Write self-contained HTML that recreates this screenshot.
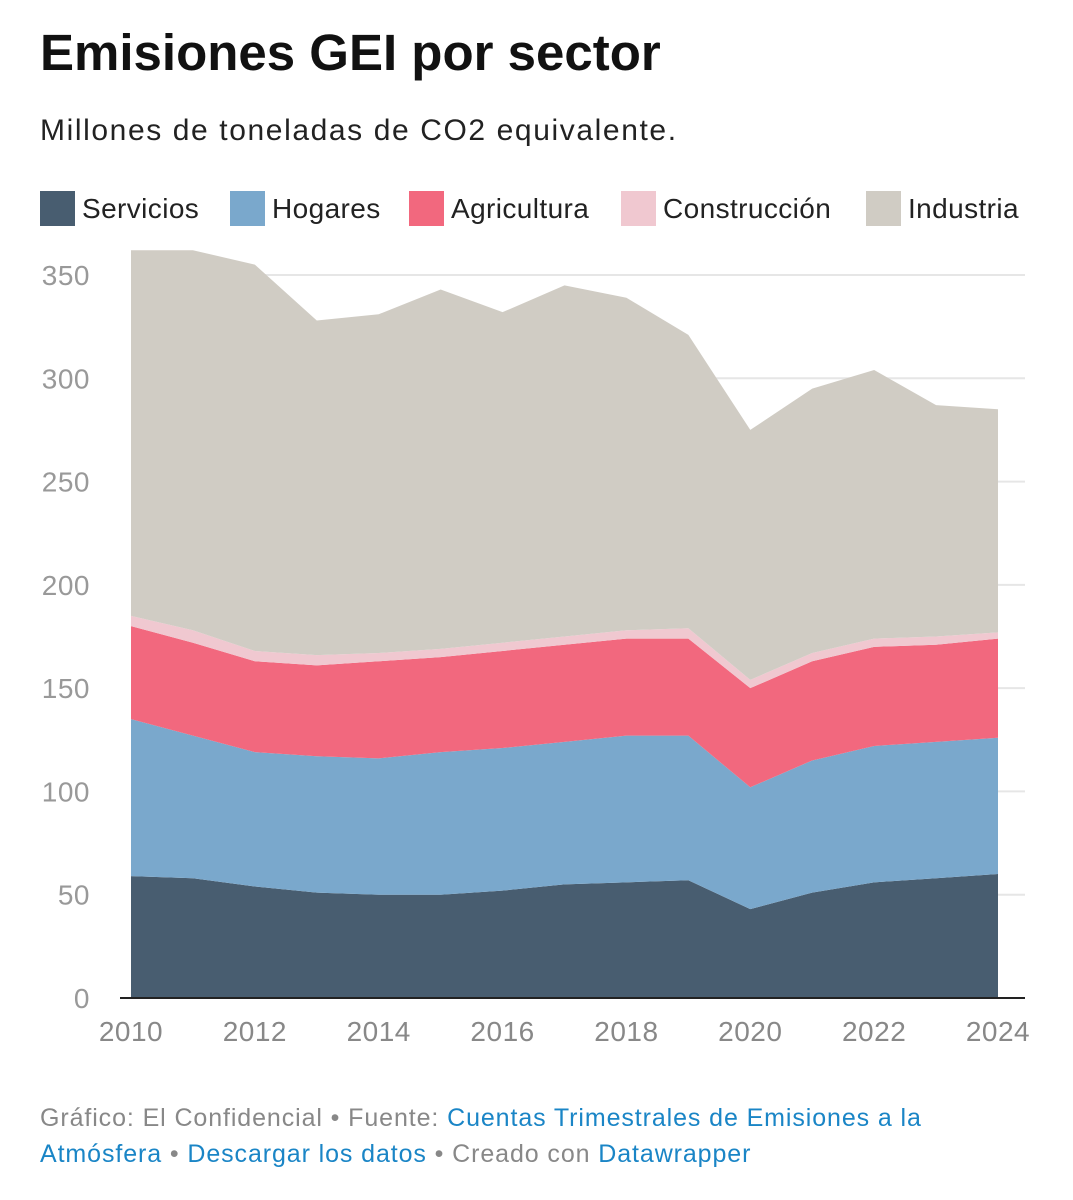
<!DOCTYPE html>
<html><head><meta charset="utf-8"><style>
body{margin:0;background:#fff;width:1073px;height:1200px;overflow:hidden;font-family:"Liberation Sans",sans-serif}
.t{position:absolute;left:40px;top:23px;font-size:51px;font-weight:bold;color:#111}
.s{position:absolute;left:40px;top:114px;font-size:30px;letter-spacing:1.6px;color:#222}
.f{position:absolute;left:40px;top:1100px;font-size:25px;letter-spacing:0.9px;line-height:36px;color:#888}
.f a{color:#1a85c6;text-decoration:none}
</style></head><body>
<div class="t">Emisiones GEI por sector</div>
<div class="s">Millones de toneladas de CO2 equivalente.</div>
<svg id="c" width="1073" height="1200" style="position:absolute;left:0;top:0"></svg>
<div class="f">Gráfico: El Confidencial • Fuente: <a>Cuentas Trimestrales de Emisiones a la<br>Atmósfera</a> • <a>Descargar los datos</a> • Creado con <a>Datawrapper</a></div>
<script>
const years=[2010,2011,2012,2013,2014,2015,2016,2017,2018,2019,2020,2021,2022,2023,2024];
const seriesNames=["Servicios","Hogares","Agricultura","Construcción","Industria"];
const servicios=[59,58,54,51,50,50,52,55,56,57,43,51,56,58,60];
const hogares=[76,69,65,66,66,69,69,69,71,70,59,64,66,66,66];
const agricultura=[45,45,44,44,47,46,47,47,47,47,48,48,48,47,48];
const construccion=[5,6,5,5,4,4,4,4,4,5,4,4,4,4,3];
const industria=[177,184,187,162,164,174,160,170,161,142,121,128,130,112,108];
const yTicks=[0,50,100,150,200,250,300,350];
const xTicks=[2010,2012,2014,2016,2018,2020,2022,2024];
const colors=["#485d70","#7aa8cc","#f2687e","#f0c8d0","#d0ccc4"];
const svg=document.getElementById('c');const NS="http://www.w3.org/2000/svg";
const x=v=>131+(v-2010)*(998-131)/14;
const y=v=>998-v*(998-275)/350;
function mk(t,a){const e=document.createElementNS(NS,t);for(const k in a)e.setAttribute(k,a[k]);svg.appendChild(e);return e;}
yTicks.forEach(v=>{
 if(v>0){const g=mk('line',{x1:131,x2:1025,y1:y(v),y2:y(v),stroke:'#e6e6e6','stroke-width':2});
 
 }
 const t=mk('text',{x:90,y:y(v)+10,'text-anchor':'end','font-size':28,fill:'#999','font-family':'Liberation Sans','letter-spacing':0.5});t.textContent=v;
 
 
});
xTicks.forEach(v=>{const t=mk('text',{x:x(v),y:1041,'text-anchor':'middle','font-size':28,fill:'#888','font-family':'Liberation Sans','letter-spacing':0.5});t.textContent=v;
 
 });
const data=[servicios,hogares,agricultura,construccion,industria];
let base=years.map(()=>0);
data.forEach((s,i)=>{
 const top=base.map((b,j)=>b+s[j]);
 let d=years.map((yr,j)=>(j?'L':'M')+x(yr)+','+y(top[j])).join('');
 for(let j=years.length-1;j>=0;j--)d+='L'+x(years[j])+','+y(base[j]);
 const p=mk('path',{d:d+'Z',fill:colors[i]});
 
 
 base=top;
});
const ax=mk('line',{x1:120,x2:1025,y1:998,y2:998,stroke:'#222','stroke-width':2});


const lx=[40,230,409,621,866];
seriesNames.forEach((n,i)=>{
 const r=mk('rect',{x:lx[i],y:191,width:35,height:35,fill:colors[i]});
 
 
 const t=mk('text',{x:lx[i]+42,y:218,'font-size':28,fill:'#222','font-family':'Liberation Sans','letter-spacing':0.4});t.textContent=n;
 
 
});
</script>
</body></html>
